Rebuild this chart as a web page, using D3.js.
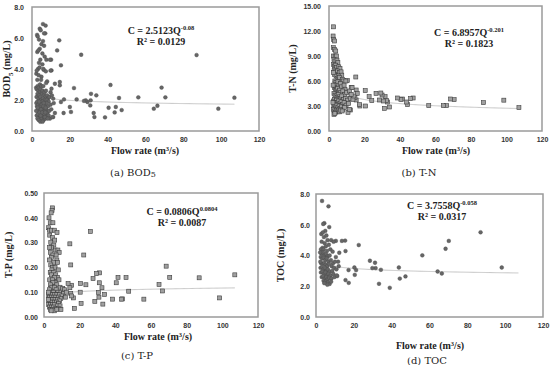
<!DOCTYPE html>
<html>
<head>
<meta charset="utf-8">
<script src="https://cdn.jsdelivr.net/npm/d3@7"></script>
<style>
  body { margin: 0; background: #fff; }
  svg { display: block; }
  .tick { font-family: "Liberation Sans", Arial, sans-serif; font-weight: bold; font-size: 7px; fill: #333; }
  .ttl { font-family: "Liberation Serif", "Times New Roman", serif; font-weight: bold; font-size: 10px; fill: #222; }
  .eq { font-family: "Liberation Serif", "Times New Roman", serif; font-weight: bold; font-size: 10px; fill: #222; }
  .cap { font-family: "DejaVu Serif", serif; font-size: 10px; fill: #222; }
</style>
</head>
<body>
<svg id="chart" width="550" height="365"></svg>
<script>
var xTicks = [0, 20, 40, 60, 80, 100, 120];

// [flow rate, concentration]
var bodPoints = [
  [107, 2.15], [98.5, 1.44], [87, 4.9], [70.5, 2.17], [68.5, 2.8], [66.3, 1.63], [64.4, 1.44], [56.2, 2.17],
  [47.4, 1.35], [46, 2.13], [44.3, 1.55], [43.7, 1.2], [41.5, 2.97], [40.5, 1.5], [38.6, 0.88], [34, 2.3],
  [33, 0.9], [32.6, 1.16], [31.2, 2.4], [31, 1.98], [30.8, 1.65], [29.3, 1.87], [28.4, 1.98], [27.5, 1.94],
  [26, 4.92], [23.6, 2.04], [22.2, 2.77], [20.6, 1.23], [20, 1.55], [16.7, 1.16], [16.9, 2.04], [15.3, 1.87],
  [15.3, 4.24], [14.7, 3.16], [14.7, 2.95], [14.4, 5.85], [13.3, 5.2], [12.1, 3.05], [12.1, 1.16], [11.2, 2.09],
  [10.3, 2.73], [10.3, 3.91], [10.1, 4.6], [11.2, 0.9],
  [5.8, 6.9], [7.2, 6.8], [2.7, 6.2], [3.0, 6.1], [4.1, 6.6], [4.6, 6.5], [7.0, 6.3], [6.4, 6.3],
  [3.7, 5.9], [5.8, 5.8], [5.0, 5.6], [6.4, 5.5], [4.1, 5.3], [2.8, 5.1], [5.5, 5.0], [3.4, 5.2],
  [6.7, 4.8], [4.4, 4.6], [7.6, 4.6], [9.5, 4.6], [3.7, 4.4], [5.5, 4.3], [3.2, 4.0], [6.2, 3.95],
  [7.3, 3.85], [9.8, 3.9], [2.3, 3.7], [5.0, 3.5], [2.5, 3.9], [4.0, 4.1], [6.0, 4.0], [3.5, 3.6],
  [2.8, 3.3], [8.0, 3.2], [7.5, 3.1], [4.8, 3.3],
  [2.2, 2.8], [2.5, 2.7], [3.0, 2.9], [3.3, 2.6], [3.6, 2.8], [4.0, 2.5], [4.2, 3.0], [4.5, 2.7],
  [5.0, 2.9], [5.3, 2.4], [5.6, 2.6], [6.0, 2.9], [6.3, 2.3], [6.6, 2.5], [7.0, 2.2], [7.4, 2.6],
  [8.0, 2.3], [8.5, 2.1], [9.2, 2.2], [9.8, 2.5], [10.5, 2.3], [2.4, 2.2], [2.9, 2.4], [3.4, 2.1],
  [3.8, 2.3], [4.4, 2.2], [4.9, 2.0], [5.8, 2.1], [6.8, 2.0], [7.8, 2.0], [8.8, 1.9],
  [2.3, 1.8], [2.6, 1.6], [2.8, 1.9], [3.1, 1.4], [3.3, 1.7], [3.5, 1.2], [3.7, 1.5], [3.9, 1.0],
  [4.1, 1.8], [4.3, 1.3], [4.5, 0.9], [4.7, 1.6], [4.9, 1.1], [5.1, 0.8], [5.3, 1.4], [5.5, 1.9],
  [5.7, 1.0], [5.9, 1.2], [6.1, 0.7], [6.3, 1.5], [6.5, 0.9], [6.7, 1.3], [6.9, 1.7], [7.1, 0.8],
  [7.3, 1.1], [7.6, 1.4], [7.9, 0.9], [8.2, 1.2], [8.5, 1.6], [8.8, 1.0], [9.1, 1.3], [9.5, 0.8],
  [2.5, 1.0], [2.9, 0.8], [3.2, 1.1], [3.6, 0.7], [4.0, 1.2], [4.4, 0.6], [4.8, 1.4], [5.2, 1.7],
  [5.6, 0.6], [6.0, 1.6], [6.4, 1.1], [6.8, 0.9], [7.2, 1.5], [7.7, 1.8], [8.3, 0.8], [2.2, 1.3],
  [3.0, 1.5], [3.8, 1.9], [4.6, 1.0], [5.4, 1.2], [6.2, 1.8], [7.0, 1.2], [10.2, 1.4], [10.8, 0.9],
  [11.5, 1.8], [9.8, 1.7]
];

var tnPoints = [
  [107, 2.8], [98.5, 3.7], [87, 3.4], [70.5, 3.76], [68.5, 3.84], [66.3, 3.04], [64.4, 3.04], [56.2, 3.04],
  [47.4, 3.96], [46, 3.88], [44.3, 3.16], [43.7, 3.48], [41.5, 3.84], [40.5, 3.8], [38.6, 3.96], [34, 2.88],
  [33, 3.48], [32.3, 3.68], [31.6, 4.12], [31.2, 2.72], [30.7, 3.6], [29.9, 4.32], [29.2, 4.56], [28.4, 3.72],
  [26.5, 4.52], [24.1, 3.64], [22.6, 4.12], [20.6, 3.0], [20.4, 4.84], [17.4, 3.0], [17.2, 3.16], [15.3, 3.72],
  [15.1, 6.48], [15.3, 4.92], [15.9, 4.52], [14.6, 4.04], [12.5, 5.2], [12, 2.52], [10.7, 2.24], [10.3, 6.04],
  [2.6, 12.5], [2.3, 11.4], [2.6, 11.0], [3.2, 10.8], [2.4, 10.0], [3.0, 9.8], [3.8, 9.6], [2.5, 9.0],
  [3.5, 9.0], [4.2, 9.0], [2.8, 8.6], [3.4, 8.4], [4.5, 8.5], [5.0, 8.2], [2.6, 8.0], [3.0, 7.8],
  [3.8, 7.9], [4.3, 7.6], [5.5, 7.7], [6.2, 7.5], [2.9, 7.3], [3.5, 7.1], [4.8, 7.2], [5.8, 7.0],
  [6.8, 7.1], [7.2, 6.7], [3.1, 6.8], [4.0, 6.6], [4.6, 6.3], [5.2, 6.6], [6.0, 6.4], [7.5, 6.2],
  [8.0, 6.0], [9.5, 6.0], [3.3, 6.0], [3.9, 5.8], [4.4, 5.6], [5.0, 5.9], [5.6, 5.5], [6.4, 5.7],
  [7.0, 5.3], [8.5, 5.5], [9.0, 5.0], [3.0, 5.2], [3.6, 5.0], [4.2, 4.9], [4.8, 5.1], [5.4, 4.7],
  [6.0, 4.9], [6.6, 4.6], [7.8, 4.8], [8.8, 4.4], [10.0, 4.6], [11.5, 4.8], [2.8, 4.5], [3.4, 4.3],
  [4.0, 4.2], [4.6, 4.0], [5.2, 4.4], [5.8, 4.1], [6.4, 3.9], [7.2, 4.2], [8.2, 3.8], [9.3, 3.9],
  [10.5, 3.7], [12.0, 3.9], [13.5, 3.8], [2.5, 3.6], [3.1, 3.8], [3.7, 3.5], [4.3, 3.7], [4.9, 3.4],
  [5.5, 3.6], [6.1, 3.3], [6.8, 3.5], [7.6, 3.2], [8.5, 3.4], [9.6, 3.1], [11.0, 3.3], [2.7, 3.0],
  [3.2, 3.2], [3.8, 2.9], [4.4, 3.1], [5.0, 2.8], [5.7, 3.0], [6.3, 2.7], [7.0, 2.9], [7.8, 2.6],
  [8.8, 2.8], [2.4, 2.6], [2.9, 2.4], [3.5, 2.2], [4.1, 2.5], [4.7, 2.3], [5.3, 2.5], [6.0, 2.3],
  [6.6, 2.5], [7.4, 2.4], [2.8, 2.0], [3.3, 2.1], [11.5, 2.6], [2.2, 3.4], [2.3, 5.5], [2.5, 7.0],
  [14.0, 4.2], [13.0, 5.2], [12.5, 4.4]
];

var tpPoints = [
  [107, 0.17], [98.5, 0.077], [87, 0.158], [70.5, 0.16], [68.5, 0.205], [66.5, 0.105], [64.5, 0.131], [56, 0.072],
  [47.5, 0.104], [46, 0.159], [44, 0.073], [43.5, 0.072], [41.5, 0.16], [40.5, 0.138], [38.5, 0.072], [34, 0.091],
  [33, 0.052], [32.5, 0.118], [31.2, 0.178], [31, 0.138], [30.5, 0.099], [30.8, 0.08], [29.5, 0.175], [28.5, 0.063],
  [27.5, 0.155], [26, 0.345], [23.5, 0.13], [22.3, 0.25], [20.5, 0.135], [20.3, 0.1], [20.8, 0.055], [17, 0.035],
  [16.5, 0.077], [15.5, 0.128], [15, 0.21], [14.5, 0.295], [15, 0.095], [15.5, 0.085], [14.5, 0.118], [13.5, 0.135],
  [4.8, 0.44], [4.5, 0.43], [4.0, 0.42], [2.8, 0.40], [3.5, 0.38], [5.0, 0.38], [2.6, 0.36], [3.0, 0.35],
  [4.2, 0.35], [5.8, 0.35], [7.3, 0.34], [3.2, 0.33], [4.8, 0.32], [6.0, 0.31], [3.8, 0.30], [5.5, 0.29],
  [4.3, 0.28], [3.1, 0.28], [6.5, 0.27], [7.8, 0.27], [8.5, 0.26], [3.6, 0.26], [5.0, 0.25], [6.8, 0.25],
  [4.1, 0.24], [7.2, 0.23], [3.0, 0.23], [5.5, 0.22], [7.6, 0.22], [3.8, 0.21], [4.8, 0.20], [6.2, 0.20],
  [4.4, 0.19], [8.0, 0.19], [3.5, 0.18], [5.3, 0.18], [6.6, 0.17], [4.1, 0.17], [7.5, 0.16], [5.8, 0.16],
  [3.2, 0.15], [4.7, 0.15], [8.4, 0.15], [6.2, 0.14], [5.0, 0.14], [3.6, 0.13], [7.2, 0.13], [4.4, 0.12],
  [9.0, 0.12], [5.8, 0.12], [10.5, 0.115], [11.5, 0.11], [6.8, 0.11], [3.0, 0.11], [4.0, 0.10], [5.2, 0.10],
  [7.8, 0.10], [9.5, 0.10], [11.0, 0.095], [2.6, 0.09], [3.5, 0.09], [4.6, 0.09], [6.0, 0.09], [7.2, 0.09],
  [8.6, 0.09], [10.0, 0.085], [3.0, 0.08], [4.2, 0.08], [5.5, 0.08], [6.6, 0.08], [8.0, 0.08], [9.4, 0.075],
  [2.8, 0.07], [3.8, 0.07], [4.9, 0.07], [6.2, 0.07], [7.5, 0.07], [8.8, 0.065], [3.2, 0.06], [4.4, 0.06],
  [5.8, 0.06], [7.0, 0.06], [8.2, 0.055], [2.6, 0.05], [3.6, 0.05], [4.8, 0.05], [6.0, 0.05], [7.4, 0.045],
  [9.0, 0.045], [3.0, 0.04], [4.2, 0.04], [5.4, 0.04], [6.6, 0.035], [8.0, 0.035], [3.6, 0.03], [4.8, 0.03],
  [5.8, 0.025], [7.2, 0.03], [9.5, 0.03], [4.0, 0.025], [2.4, 0.07], [2.5, 0.10], [12.5, 0.10], [12.0, 0.08]
];

var tocPoints = [
  [98.2, 3.22], [87, 5.51], [70.2, 4.95], [68.5, 4.44], [66.5, 2.83], [64.3, 2.96], [56.2, 4.01], [47.3, 2.64],
  [44.3, 2.5], [43.8, 3.22], [39, 1.9], [34.3, 3.07], [33.3, 2.16], [31.5, 3.18], [31.2, 3.53], [29.8, 3.18],
  [28.5, 3.66], [22.6, 4.68], [21.2, 3.05], [20.5, 2.74], [20.3, 3.22], [17.3, 2.22], [17.2, 3.05], [15.6, 2.4],
  [15.6, 4.29], [15.4, 4.97], [13.7, 4.95], [12.3, 4.18], [11.7, 3.6], [11.2, 2.66], [10.5, 4.95],
  [3.2, 7.55], [6.6, 7.2], [4.4, 6.1], [3.8, 6.05], [7.0, 5.85], [4.9, 5.6], [2.8, 5.4], [3.6, 5.5],
  [4.2, 5.2], [5.5, 5.3], [6.1, 5.0], [8.0, 5.0], [9.3, 4.9], [3.0, 4.9], [4.6, 4.8], [5.2, 4.6],
  [6.8, 4.7], [3.4, 4.5], [2.6, 4.4], [4.0, 4.4], [5.8, 4.3], [7.6, 4.4], [8.8, 4.25], [2.9, 4.1],
  [3.7, 4.2], [4.5, 4.0], [5.3, 4.1], [6.2, 3.95], [7.2, 4.0], [2.5, 3.9], [3.3, 3.8], [4.1, 3.85],
  [4.9, 3.7], [5.7, 3.8], [6.6, 3.6], [7.9, 3.7], [9.0, 3.5], [10.0, 3.6], [2.7, 3.5], [3.5, 3.45],
  [4.3, 3.5], [5.1, 3.4], [5.9, 3.3], [6.9, 3.45], [8.3, 3.3], [9.6, 3.2], [2.4, 3.2], [3.1, 3.25],
  [3.9, 3.1], [4.7, 3.2], [5.5, 3.0], [6.3, 3.1], [7.3, 2.95], [8.6, 3.0], [10.8, 3.1], [2.6, 2.9],
  [3.4, 2.95], [4.2, 2.8], [5.0, 2.9], [5.8, 2.7], [6.6, 2.8], [7.7, 2.7], [9.2, 2.8], [3.0, 2.6],
  [3.8, 2.65], [4.6, 2.5], [5.4, 2.6], [6.2, 2.45], [7.0, 2.55], [8.2, 2.5], [4.0, 2.35], [5.0, 2.3],
  [5.6, 2.2], [6.4, 2.25], [7.2, 2.15], [8.0, 2.3], [6.0, 2.1], [4.4, 2.2], [9.8, 2.6], [11.0, 2.7],
  [2.3, 3.6], [2.2, 4.2], [10.5, 3.9], [12.0, 3.3]
];

// power-law fits C = a * Q^b
var fitA = [2.5123, 6.8957, 0.0806, 3.7558];
var fitB = [-0.08, -0.201, 0.0804, -0.058];
var fitLabel = ["C = 2.5123Q", "C = 6.8957Q", "C = 0.0806Q", "C = 3.7558Q"];
var fitExp = ["-0.08", "-0.201", "0.0804", "-0.058"];
var r2Label = ["R\u00b2 = 0.0129", "R\u00b2 = 0.1823", "R\u00b2 = 0.0087", "R\u00b2 = 0.0317"];

var yMax = [8, 15, 0.5, 8];
var yStep = [2, 3, 0.1, 2];
var yFormat = [".1f", ".2f", ".2f", ".1f"];
var yName = [["BOD", "5", " (mg/L)"], ["T-N (mg/L)"], ["T-P (mg/L)"], ["TOC (mg/L)"]];
var captions = [["(a) BOD", "5"], ["(b) T-N"], ["(c) T-P"], ["(d) TOC"]];

var svg = d3.select("#chart");

var panels = [
  {data: bodPoints, shape: "circle", x0: 32, x1: 259, yT: 7, yB: 131, ypad: 8, ylx: 10, eqx: 161, eqy: 34, flowx: 145, flowy: 154, capx: 133, capy: 176},
  {data: tnPoints, shape: "square", x0: 329, x1: 542, yT: 6, yB: 131, ypad: 8, ylx: 296, eqx: 469, eqy: 36, flowx: 436, flowy: 154, capx: 419, capy: 176},
  {data: tpPoints, shape: "square", x0: 44, x1: 258, yT: 193, yB: 317, ypad: 6, ylx: 12, eqx: 182, eqy: 215, flowx: 158, flowy: 340, capx: 137, capy: 359},
  {data: tocPoints, shape: "circle", x0: 316, x1: 543, yT: 194, yB: 317, ypad: 6, ylx: 284, eqx: 442, eqy: 209, flowx: 430, flowy: 349, capx: 427, capy: 364}
];

panels.forEach(function(p, i) {
  var x = d3.scaleLinear().domain([0, 120]).range([p.x0, p.x1]);
  var y = d3.scaleLinear().domain([0, yMax[i]]).range([p.yB, p.yT]);
  var g = svg.append("g");

  // plot frame
  g.append("rect")
    .attr("x", p.x0).attr("y", p.yT)
    .attr("width", p.x1 - p.x0).attr("height", p.yB - p.yT)
    .attr("fill", "none").attr("stroke", "#9a9a9a").attr("stroke-width", 1.5);

  // axes, labels only
  var yTicks = d3.range(0, yMax[i] + yStep[i] / 2, yStep[i]);
  var ax = g.append("g").attr("transform", "translate(0," + p.yB + ")")
    .call(d3.axisBottom(x).tickValues(xTicks).tickSize(0).tickPadding(6));
  var ay = g.append("g").attr("transform", "translate(" + p.x0 + ",0)")
    .call(d3.axisLeft(y).tickValues(yTicks).tickFormat(d3.format(yFormat[i])).tickSize(0).tickPadding(p.ypad));
  [ax, ay].forEach(function(a) {
    a.select(".domain").remove();
    a.selectAll("text").attr("class", "tick").attr("fill", null);
    a.attr("font-size", null).attr("font-family", null);
  });

  // trend line
  var qs = d3.range(2, 107.01, 0.5);
  var line = d3.line().x(function(q) { return x(q); }).y(function(q) { return y(fitA[i] * Math.pow(q, fitB[i])); });
  g.append("path").datum(qs).attr("d", line)
    .attr("fill", "none").attr("stroke", "#c4c4c4").attr("stroke-width", 1);

  // points
  if (p.shape == "circle") {
    g.selectAll("circle.pt").data(p.data).enter().append("circle")
      .attr("class", "pt")
      .attr("cx", function(d) { return x(d[0]); })
      .attr("cy", function(d) { return y(d[1]); })
      .attr("r", 1.9)
      .attr("fill", "#666").attr("stroke", "#4a4a4a").attr("stroke-width", 0.4);
  } else {
    g.selectAll("rect.pt").data(p.data).enter().append("rect")
      .attr("class", "pt")
      .attr("x", function(d) { return x(d[0]) - 2; })
      .attr("y", function(d) { return y(d[1]) - 2; })
      .attr("width", 4).attr("height", 4)
      .attr("fill", "#a0a0a0").attr("stroke", "#3c3c3c").attr("stroke-width", 0.6);
  }

  // equation
  var eq = g.append("text").attr("class", "eq").attr("x", p.eqx).attr("y", p.eqy).attr("text-anchor", "middle");
  eq.append("tspan").text(fitLabel[i]);
  eq.append("tspan").attr("dy", -4).attr("font-size", 6.5).text(fitExp[i]);
  g.append("text").attr("class", "eq").attr("x", p.eqx).attr("y", p.eqy + 11)
    .attr("text-anchor", "middle").text(r2Label[i]);

  // axis titles
  g.append("text").attr("class", "ttl")
    .attr("x", p.flowx).attr("y", p.flowy)
    .attr("text-anchor", "middle")
    .html("Flow rate (m<tspan dy='-3.5' font-size='6.5'>3</tspan><tspan dy='3.5'>/s)</tspan>");

  var yl = g.append("text").attr("class", "ttl")
    .attr("transform", "translate(" + p.ylx + "," + ((p.yT + p.yB) / 2) + ") rotate(-90)")
    .attr("text-anchor", "middle");
  yl.append("tspan").text(yName[i][0]);
  if (yName[i].length > 1) {
    yl.append("tspan").attr("dy", 2.5).attr("font-size", 7).text(yName[i][1]);
    yl.append("tspan").attr("dy", -2.5).text(yName[i][2]);
  }

  // caption
  var cap = g.append("text").attr("class", "cap").attr("x", p.capx).attr("y", p.capy).attr("text-anchor", "middle");
  cap.append("tspan").text(captions[i][0]);
  if (captions[i].length > 1) cap.append("tspan").attr("font-size", 8).attr("dy", 1).text(captions[i][1]);
});
</script>
</body>
</html>
